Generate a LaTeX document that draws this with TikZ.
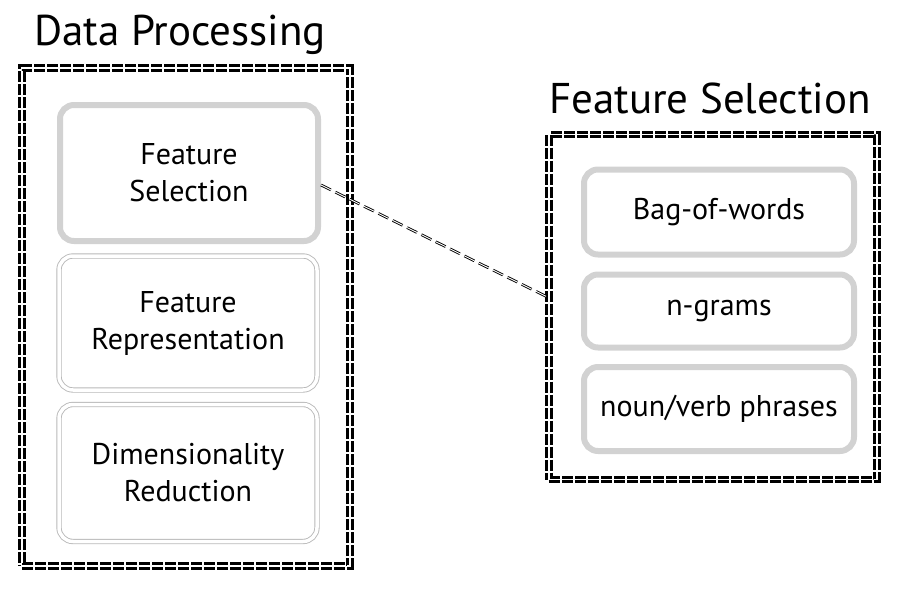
\documentclass[tikz,border=0pt]{standalone}
\usepackage{fontspec}
\setmainfont{PT Sans}
\begin{document}
\begin{tikzpicture}[x=1pt,y=-1pt,
    outerbox/.style={draw=black, double, double distance=1.4pt, line width=3.2pt,
        dash pattern=on 11pt off 2pt, inner sep=0pt},
    thickbox/.style={draw=gray!35, line width=6pt, rounded corners=14pt,
        align=center, inner sep=0pt, font=\fontsize{30}{37}\selectfont},
    thinbox/.style={draw=gray!55, double, double distance=3.5pt, line width=0.9pt,
        rounded corners=14pt, align=center, inner sep=0pt, font=\fontsize{30}{37}\selectfont},
    heading/.style={font=\fontsize{43}{50}\selectfont},
    link/.style={draw=black, double, double distance=0.9pt, line width=0.9pt,
        dash pattern=on 11pt off 5pt}]
        \useasboundingbox (0,0) rectangle (911,592);
        % left column
        \node[heading] (dptitle) at (180,35) {Data Processing};
        \node[outerbox, minimum width=328, minimum height=498] (dp) at (186,317) {};
        \node[thickbox, minimum width=258, minimum height=136] (fs) at (189,173) {Feature\\Selection};
        \node[thinbox, minimum width=258, minimum height=134] (fr) at (188,323) {Feature\\Representation};
        \node[thinbox, minimum width=258, minimum height=137] (dr) at (188,473) {Dimensionality\\Reduction};
        % right column
        \node[heading] (fstitle) at (710,98) {Feature Selection};
        \node[outerbox, minimum width=328, minimum height=345] (sel) at (713,307) {};
        \node[thickbox, minimum width=270, minimum height=85] (bow) at (719,212) {Bag-of-words};
        \node[thickbox, minimum width=270, minimum height=73] (ng) at (719,311) {n-grams};
        \node[thickbox, minimum width=270, minimum height=84] (nvp) at (719,409) {noun/verb phrases};
        % link
        \draw[link] ([yshift=-12pt]fs.east) -- ([yshift=10pt]sel.west);
    \end{tikzpicture}
\end{document}
